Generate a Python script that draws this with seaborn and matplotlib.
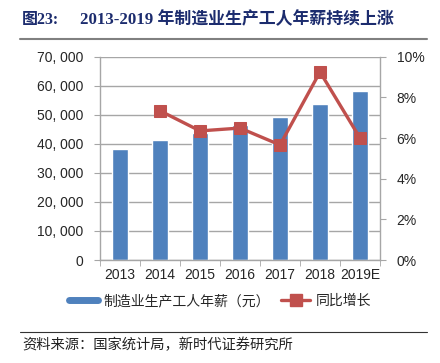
import numpy as np
import pandas as pd
import matplotlib
matplotlib.use('Agg')
import matplotlib.pyplot as plt
from matplotlib.lines import Line2D
from matplotlib.ticker import FuncFormatter, FixedLocator
import seaborn as sns

# data
years = ['2013', '2014', '2015', '2016', '2017', '2018', '2019E']
salary = [38200, 41200, 43700, 46600, 49200, 53800, 58100]
growth_years = ['2014', '2015', '2016', '2017', '2018', '2019E']
growth = [7.34, 6.35, 6.49, 5.66, 9.25, 6.00]

sns.set_style('white')
plt.rcParams['font.family'] = ['Liberation Sans', 'Noto Sans CJK SC', 'DejaVu Sans']

blue = '#4F81BD'
red = '#C0504D'
grey = '#A6A6A6'

fig = plt.figure(figsize=(4.4, 3.63), dpi=100)
ax = fig.add_axes([100 / 440, 1 - 260 / 363, 280 / 440, (260 - 56.7) / 363])

df = pd.DataFrame({'year': years, 'salary': salary})
sns.barplot(data=df, x='year', y='salary', color=blue, width=0.39, saturation=1, ax=ax)

ax.set_ylim(0, 70000)
ax.set_xlim(-0.5, len(years) - 0.5)
ax.set_yticks(np.arange(0, 70001, 10000))
ax.yaxis.set_major_formatter(FuncFormatter(lambda v, p: '0' if v == 0 else f'{int(v):,}'.replace(',', ', ')))
ax.yaxis.grid(True, color=grey, linewidth=1)
ax.set_axisbelow(True)
ax.set_xlabel('')
ax.set_ylabel('')
for s in ['top', 'right']:
    ax.spines[s].set_visible(False)
for s in ['left', 'bottom']:
    ax.spines[s].set_color(grey)
    ax.spines[s].set_linewidth(1)
ax.tick_params(axis='y', which='major', length=4, color=grey, labelsize=10, pad=8, direction='out', left=True)
ax.tick_params(axis='x', which='major', length=0, labelsize=10, pad=6)
ax.xaxis.set_minor_locator(FixedLocator(np.arange(-0.5, len(years), 1.0)))
ax.tick_params(axis='x', which='minor', length=4, color=grey, direction='out', bottom=True)

ax2 = ax.twinx()
gdf = pd.DataFrame({'pos': [years.index(y) for y in growth_years], 'growth': growth})
sns.lineplot(data=gdf, x='pos', y='growth', color=red, linewidth=2.4, marker='s',
             markersize=8.5, markeredgecolor=red, ax=ax2)
ax2.set_ylim(0, 10)
ax2.set_xlim(-0.5, len(years) - 0.5)
ax2.set_yticks(np.arange(0, 10.1, 2))
ax2.yaxis.set_major_formatter(FuncFormatter(lambda v, p: f'{int(v)}%'))
ax2.set_ylabel('')
ax2.set_xlabel('')
for s in ['top', 'left', 'bottom']:
    ax2.spines[s].set_visible(False)
ax2.spines['right'].set_color(grey)
ax2.spines['right'].set_linewidth(1)
ax2.tick_params(axis='y', length=4, color=grey, labelsize=10, pad=8, direction='out', right=True)

handles = [Line2D([], [], color=blue, linewidth=5),
           Line2D([], [], color=red, linewidth=2.4, marker='s', markersize=8)]
labels = ['制造业生产工人年薪（元）', '同比增长']
fig.legend(handles, labels, loc='center', bbox_to_anchor=(517 / 1100 + 0.03, 1 - 301 / 363), ncol=2,
           frameon=False, fontsize=10, handlelength=2.1, columnspacing=0.8, handletextpad=0.4)

# title and source
fig.text(22 / 440, 1 - 20 / 363, '图23:', fontsize=11.5, fontweight='bold', color='#1c2c6e',
         family=['Liberation Serif', 'Noto Sans CJK SC'], va='center')
fig.text(80 / 440, 1 - 20 / 363, '2013-2019 年制造业生产工人年薪持续上涨', fontsize=12.2, fontweight='bold',
         color='#1c2c6e', family=['Liberation Serif', 'Noto Sans CJK SC'], va='center')
fig.add_artist(Line2D([20 / 440, 427 / 440], [1 - 38.5 / 363] * 2, color='#808080', linewidth=1.5))
fig.add_artist(Line2D([20 / 440, 427 / 440], [1 - 332 / 363] * 2, color='#333333', linewidth=0.8))
fig.text(22 / 440, 1 - 345 / 363, '资料来源：国家统计局，新时代证券研究所', fontsize=10.3, color='#222222',
         family=['Noto Sans CJK SC'], va='center')

fig.savefig('out.png', dpi=100)
